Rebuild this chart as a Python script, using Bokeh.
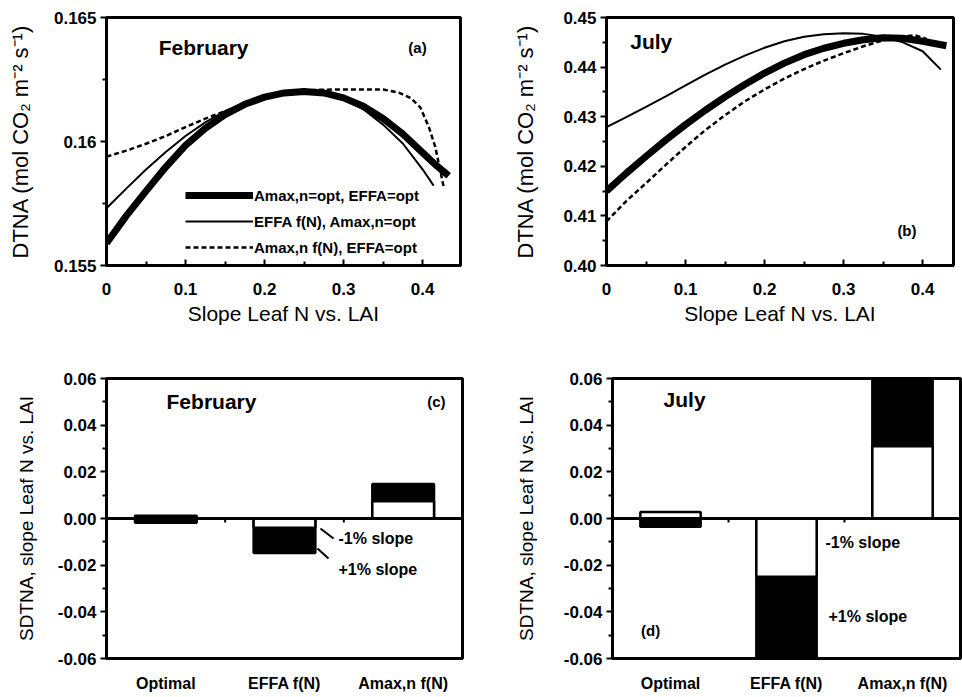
from bokeh.plotting import figure
from bokeh.layouts import column, row
from bokeh.models import FixedTicker, Legend, LegendItem, Span, Range1d, FactorRange
from bokeh.core.properties import value
from bokeh.embed import file_html
from bokeh.resources import INLINE

FONT = "Liberation Sans"

# ---------------- data: panel (a) February ----------------
feb_opt_x = [0, 0.025, 0.05, 0.075, 0.1, 0.125, 0.15, 0.175, 0.2, 0.225, 0.25, 0.275, 0.3,
             0.325, 0.35, 0.375, 0.4, 0.415, 0.433]
feb_opt = [0.1559, 0.1570, 0.1580, 0.15897, 0.15984, 0.16053, 0.16108, 0.16150, 0.16179, 0.16196,
           0.16202, 0.16196, 0.16176, 0.16142, 0.16093, 0.16030, 0.15955, 0.15910, 0.15862]
feb_effa_x = [0, 0.025, 0.05, 0.075, 0.1, 0.125, 0.15, 0.175, 0.2, 0.225, 0.25, 0.275, 0.3,
              0.325, 0.35, 0.375, 0.4, 0.414]
feb_effa = [0.15731, 0.1581, 0.15887, 0.15958, 0.16022, 0.16077, 0.16122, 0.16157, 0.16182, 0.16197,
            0.16202, 0.16194, 0.16172, 0.16130, 0.16068, 0.15992, 0.15888, 0.15822]
feb_amax_x = [0, 0.025, 0.05, 0.075, 0.1, 0.125, 0.15, 0.175, 0.2, 0.225, 0.25, 0.275, 0.3,
              0.325, 0.35, 0.37, 0.385, 0.397, 0.408, 0.416, 0.423, 0.427]
feb_amax = [0.15939, 0.15963, 0.15991, 0.16022, 0.16058, 0.16092, 0.16122, 0.16152, 0.16178, 0.16197,
            0.16206, 0.16209, 0.1621, 0.1621, 0.1621, 0.16197, 0.16175, 0.16138, 0.16058, 0.15979,
            0.15873, 0.15813]

# ---------------- data: panel (b) July ----------------
jul_opt_x = [0, 0.025, 0.05, 0.075, 0.1, 0.125, 0.15, 0.175, 0.2, 0.225, 0.25, 0.275, 0.3,
             0.325, 0.35, 0.375, 0.4, 0.43]
jul_opt = [0.4150, 0.4186, 0.4220, 0.4253, 0.4284, 0.4313, 0.4340, 0.4365, 0.4388, 0.4408,
           0.4425, 0.4438, 0.4448, 0.4455, 0.4459, 0.4458, 0.4452, 0.4443]
jul_effa_x = [0, 0.025, 0.05, 0.075, 0.1, 0.125, 0.15, 0.175, 0.2, 0.225, 0.25, 0.275, 0.3,
              0.325, 0.35, 0.375, 0.4, 0.423]
jul_effa = [0.4279, 0.4299, 0.4320, 0.4341, 0.4363, 0.4385, 0.4405, 0.4423, 0.4439, 0.4452,
            0.4461, 0.4466, 0.4468, 0.4467, 0.4461, 0.4450, 0.4432, 0.4395]
jul_amax_x = [0, 0.025, 0.05, 0.075, 0.1, 0.125, 0.15, 0.175, 0.2, 0.225, 0.25, 0.275, 0.3,
              0.325, 0.35, 0.375, 0.39, 0.405]
jul_amax = [0.4089, 0.4130, 0.4166, 0.4203, 0.4239, 0.4273, 0.4303, 0.4331, 0.4355, 0.4377,
            0.4396, 0.4413, 0.4428, 0.4442, 0.4454, 0.4462, 0.4464, 0.4457]

# ---------------- data: panels (c), (d) ----------------
categories = ["Optimal", "EFFA f(N)", "Amax,n f(N)"]
feb_minus1 = [0.0012, -0.004, 0.0074]     # -1% slope (white)
feb_plus1 = [-0.0018, -0.0148, 0.0148]    # +1% slope (black)
jul_minus1 = [0.0028, -0.025, 0.031]
jul_plus1 = [-0.0035, -0.06, 0.06]

legend_labels = ["Amax,n=opt, EFFA=opt", "EFFA f(N), Amax,n=opt", "Amax,n f(N), EFFA=opt"]

x_ticks = [0, 0.1, 0.2, 0.3, 0.4]
x_tick_labels = ["0", "0.1", "0.2", "0.3", "0.4"]
feb_y_ticks = [0.155, 0.16, 0.165]
feb_y_labels = ["0.155", "0.16", "0.165"]
jul_y_ticks = [0.40, 0.41, 0.42, 0.43, 0.44, 0.45]
jul_y_labels = ["0.40", "0.41", "0.42", "0.43", "0.44", "0.45"]
bar_y_ticks = [-0.06, -0.04, -0.02, 0, 0.02, 0.04, 0.06]
bar_y_labels = ["-0.06", "-0.04", "-0.02", "0.00", "0.02", "0.04", "0.06"]

Y_LABEL_TOP = "DTNA (mol CO\u2082 m\u207b\u00b2 s\u207b\u00b9)"
Y_LABEL_BOT = "SDTNA, slope Leaf N vs. LAI"
X_LABEL = "Slope Leaf N vs. LAI"


def base_style(p):
    p.grid.visible = False
    p.outline_line_color = "black"
    p.outline_line_width = 3
    p.background_fill_color = "white"
    p.border_fill_color = "white"
    for ax in (p.xaxis, p.yaxis):
        ax.axis_line_width = 3
        ax.axis_line_color = "black"
        ax.major_tick_line_width = 2
        ax.minor_tick_line_width = 2
        ax.major_label_text_font = FONT
        ax.major_label_text_font_size = "17px"
        ax.major_label_text_font_style = "bold"
        ax.major_label_text_color = "black"
        ax.axis_label_text_font = FONT
        ax.axis_label_text_font_size = "21px"
        ax.axis_label_text_font_style = "normal"
        ax.axis_label_text_color = "black"
    p.yaxis.major_tick_in = 0
    p.yaxis.major_tick_out = 6
    p.yaxis.minor_tick_in = 0
    p.yaxis.minor_tick_out = 4
    p.yaxis.major_label_standoff = 4


def add_text(p, x, y, txt, size="21px", align="left"):
    p.text(x=[x], y=[y], text=[txt], text_font=value(FONT), text_font_size=value(size),
           text_font_style="bold", text_color="black", text_align=align, text_baseline="middle")


def line_panel(width, height, xr, yr, yticks, ylabels, yminor, bl, br, bt, bb, ylab_standoff,
               xs, ys, show_legend):
    p = figure(width=width, height=height, x_range=Range1d(*xr), y_range=Range1d(*yr),
               output_backend="svg", toolbar_location=None,
               min_border_left=bl, min_border_right=br, min_border_top=bt, min_border_bottom=bb)
    base_style(p)
    p.yaxis.axis_label_text_font_size = "22px"
    p.xaxis.ticker = FixedTicker(ticks=x_ticks, minor_ticks=[0.05, 0.15, 0.25, 0.35])
    p.xaxis.major_label_overrides = dict(zip(x_ticks, x_tick_labels))
    p.xaxis.major_tick_in = 6
    p.xaxis.major_tick_out = 0
    p.xaxis.minor_tick_in = 4
    p.xaxis.minor_tick_out = 0
    p.xaxis.major_label_standoff = 17
    p.xaxis.axis_label = X_LABEL
    p.xaxis.axis_label_standoff = 4
    p.yaxis.ticker = FixedTicker(ticks=yticks, minor_ticks=yminor)
    p.yaxis.major_label_overrides = dict(zip(yticks, ylabels))
    p.yaxis.axis_label = Y_LABEL_TOP
    p.yaxis.axis_label_standoff = ylab_standoff
    r1 = p.line(xs[0], ys[0], line_color="black", line_width=7)
    r2 = p.line(xs[1], ys[1], line_color="black", line_width=2)
    r3 = p.line(xs[2], ys[2], line_color="black", line_width=2.5, line_dash="5 3")
    if show_legend:
        leg = Legend(items=[LegendItem(label=legend_labels[0], renderers=[r1]),
                            LegendItem(label=legend_labels[1], renderers=[r2]),
                            LegendItem(label=legend_labels[2], renderers=[r3])],
                     location=(79, 8), glyph_width=68, glyph_height=20, label_height=20,
                     label_standoff=1, spacing=6, padding=0, margin=0,
                     border_line_color=None, background_fill_alpha=0,
                     label_text_font=FONT, label_text_font_size="15px",
                     label_text_font_style="bold", label_text_color="black")
        p.add_layout(leg)
    return p


def bar_panel(width, height, bl, br, bt, bb, ylab_standoff, minus1, plus1):
    p = figure(width=width, height=height, x_range=FactorRange(*categories),
               y_range=Range1d(-0.06, 0.06), output_backend="svg", toolbar_location=None,
               min_border_left=bl, min_border_right=br, min_border_top=bt, min_border_bottom=bb)
    base_style(p)
    p.yaxis.axis_label_text_font_size = "19px"
    p.xaxis.major_label_text_font_size = "16px"
    p.xaxis.major_tick_in = 0
    p.xaxis.major_tick_out = 0
    p.xaxis.minor_tick_in = 0
    p.xaxis.minor_tick_out = 0
    p.xaxis.major_label_standoff = 16
    p.yaxis.ticker = FixedTicker(ticks=bar_y_ticks,
                                 minor_ticks=[-0.05, -0.03, -0.01, 0.01, 0.03, 0.05])
    p.yaxis.major_label_overrides = dict(zip(bar_y_ticks, bar_y_labels))
    p.yaxis.axis_label = Y_LABEL_BOT
    p.yaxis.axis_label_standoff = ylab_standoff
    p.vbar(x=categories, top=plus1, bottom=0, width=0.52, fill_color="black",
           line_color="black", line_width=2.5)
    p.vbar(x=categories, top=minus1, bottom=0, width=0.52, fill_color="white",
           line_color="black", line_width=2.5)
    p.add_layout(Span(location=0, dimension="width", line_color="black", line_width=3))
    bounds = list(range(1, len(categories)))
    p.segment(x0=bounds, y0=[0] * len(bounds), x1=bounds, y1=[-0.0017] * len(bounds),
              line_color="black", line_width=2)
    return p


pa = line_panel(480, 330, (0, 0.448), (0.155, 0.165), feb_y_ticks, feb_y_labels,
                [0.1575, 0.1625], 106, 20, 13, 65, 18,
                [feb_opt_x, feb_effa_x, feb_amax_x], [feb_opt, feb_effa, feb_amax], True)
add_text(pa, 0.066, 0.1638, "February")
add_text(pa, 0.382, 0.1638, "(a)", size="15px")

pb = line_panel(482, 330, (0, 0.439), (0.40, 0.45), jul_y_ticks, jul_y_labels,
                [0.405, 0.415, 0.425, 0.435, 0.445], 126, 9, 17, 63, 22,
                [jul_opt_x, jul_effa_x, jul_amax_x], [jul_opt, jul_effa, jul_amax], False)
add_text(pb, 0.03, 0.4452, "July")
add_text(pb, 0.368, 0.407, "(b)", size="15px")

pc = bar_panel(480, 367, 106, 18, 48, 39, 18, feb_minus1, feb_plus1)
add_text(pc, 0.506, 0.0501, "February")
add_text(pc, 2.78, 0.0501, "(c)", size="15px", align="center")
add_text(pc, 1.955, -0.0086, "-1% slope", size="16px")
add_text(pc, 1.955, -0.0219, "+1% slope", size="16px")
pc.segment(x0=[1.803, 1.778], y0=[-0.0043, -0.0129], x1=[1.913, 1.871], y1=[-0.0086, -0.0171],
           line_color="black", line_width=2)

pd = bar_panel(482, 367, 132, 2, 48, 38, 24, jul_minus1, jul_plus1)
add_text(pd, 0.44, 0.0508, "July")
add_text(pd, 0.328, -0.0478, "(d)", size="15px", align="center")
add_text(pd, 1.836, -0.0101, "-1% slope", size="16px")
add_text(pd, 1.862, -0.0418, "+1% slope", size="16px")

layout = column(row(pa, pb), row(pc, pd))

open("out.html", "w").write(file_html(layout, INLINE))
